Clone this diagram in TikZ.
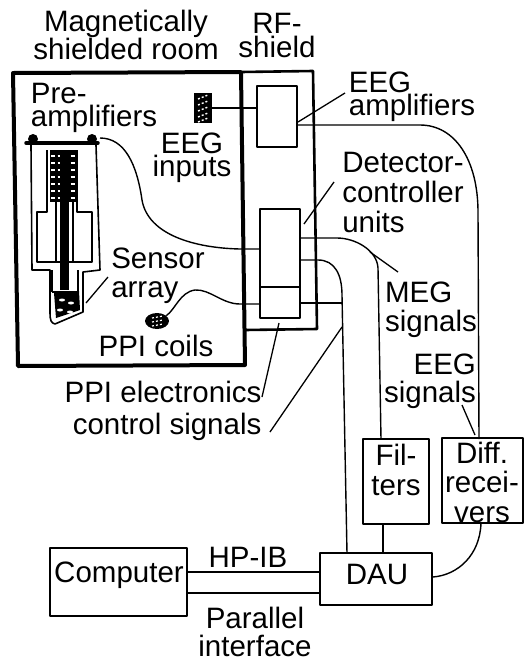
\documentclass[tikz,border=0pt]{standalone}
\usepackage{fontspec}
\setmainfont{Liberation Sans}
\usepackage{tikz}
\usetikzlibrary{shapes.geometric}

\begin{document}
\begin{tikzpicture}[x=1pt,y=-1pt,line join=round,
  lbl/.style={inner sep=0pt,align=center,font=\fontsize{29.5}{#1}\selectfont},
  unit/.style={draw,line width=1.6pt,inner sep=0pt,minimum width=#1},
  wire/.style={line width=1.4pt},
  bus/.style={line width=2.4pt},
  lead/.style={line width=1.3pt}]

\useasboundingbox (0,0) rectangle (525,662);

% rooms
\draw [line width=4pt] (13,73) -- (241,72) -- (245,365) -- (18,366) -- cycle;
\draw [line width=2.6pt] (241,72) -- (313,71) -- (317,329) -- (245,330);

% boxes
\node at (277,116.5) [unit=40pt,minimum height=61pt] (eegamp) {};
\node at (280,248) [unit=40pt,minimum height=78pt] (dcu) {};
\node at (280,302.5) [unit=40pt,minimum height=31pt] (ppi) {};
\node at (396,481.5) [unit=66pt,minimum height=85pt] (filters) {};
\node at (482.5,480.5) [unit=81pt,minimum height=85pt] (diff) {};
\node at (376,579) [unit=112pt,minimum height=52pt] (dau) {};
\node at (118.5,582) [unit=137pt,minimum height=68pt] (computer) {};
\node at (203,108) [fill=black,minimum width=18pt,minimum height=30pt,inner sep=0pt] (eeginp) {};
\node at (157,321) [ellipse,fill=black,minimum width=24pt,minimum height=16pt,inner sep=0pt] (coils) {};
\foreach \yy in {97,103,109,115,120} \draw [white,line width=1.4pt,dash pattern=on 2pt off 2pt] (198,\yy+2) -- (208,\yy-2);
\foreach \yy in {317,321,325} \draw [white,line width=1.2pt,dash pattern=on 2pt off 2pt] (152,\yy+1) -- (163,\yy-1);

% dewar
\draw [line width=1.6pt] (31,145) -- (32,270) -- (50,270) -- (50,313) .. controls (50,320) and (51,323) .. (55,324) -- (83,312) -- (83,272) -- (100,270) -- (96,145);
\draw [line width=1.6pt] (47,150) -- (47,212) -- (37,212) -- (37,262) -- (92,262) -- (92,212) -- (77,212) -- (77,150);
\draw [line width=1.6pt] (52,270) -- (52,292) (78,270) -- (78,292) (52,292) -- (78,292);
\draw [line width=1.2pt] (56,200) -- (56,262) (73,200) -- (73,262);
\draw [line width=3.5pt,line cap=round] (26,143) -- (98,143);
\fill (33,139) circle (5pt) (92,139) circle (5pt);
\fill (50,150) rectangle (77,202);
\foreach \yy in {156,163,170,177,184,191,198} \draw [white,line width=1.5pt,dash pattern=on 4pt off 2.5pt] (51,\yy) -- (76,\yy);
\fill (60,150) rectangle (69,290);
\fill (54,293) -- (79,291) -- (80,310) -- (56,318) -- cycle;
\foreach \xx/\yy in {62/300,71/303,60/310,70/312} \fill [white] (\xx,\yy) ellipse (3pt and 1.5pt);

% wires
\coordinate (eegout) at (297,125);
\coordinate (egcurve) at (420,125);
\coordinate (megout) at (337,238);
\coordinate (dauout) at (318,260);
\coordinate (ppiout) at (342,303);
\coordinate (preamp) at (100,138);
\coordinate (preend) at (240,249);
\coordinate (coilend) at (240,304);
\coordinate (hpib) at (187,572);
\coordinate (parallel) at (187,593);

\draw [wire] (eeginp.east) -- (eeginp.east -| eegamp.west);
\draw [wire] (eegout) -- (egcurve) .. controls (455,125) and (478,160) .. (478,212) -- (479,439);
\draw [wire] (dcu.east |- megout) -- (megout) .. controls (355,238) and (377,250) .. (378,268) -- (381,439);
\draw [wire] (dcu.east |- dauout) -- (dauout) .. controls (335,260) and (342,275) .. (342,295) -- (347,553);
\draw [wire] (ppi.east |- ppiout) -- (ppiout);
\draw [wire] (preamp) .. controls (125,138) and (137,165) .. (142,200) .. controls (148,235) and (195,248) .. (preend) -- (preend -| dcu.west);
\draw [wire] (coils.30) .. controls (175,310) and (180,292) .. (195,290) .. controls (210,289) and (222,304) .. (coilend) -- (coilend -| ppi.west);
\draw [wire] (383,524) -- (383,553);
\draw [wire] (481,523) .. controls (480,555) and (458,575) .. (433,577);
\draw [bus] (hpib) -- (hpib -| dau.west);
\draw [bus] (parallel) -- (parallel -| dau.west);

% leaders
\draw [lead] (345,93) -- (298,122);
\draw [lead] (334,182) -- (304,224);
\draw [lead] (398,272) -- (370,252);
\draw [lead] (108,277) -- (86,303);
\draw [lead] (279,323) -- (262,397);
\draw [lead] (342,327) -- (270,432);
\draw [lead] (462,405) -- (475,435);

% labels
\node at (126,35) [lbl=24] (roomlbl) {Magnetically\\shielded room};
\node at (277,35) [lbl=24] (shieldlbl) {RF-\\shield};
\node at (94,108) [lbl=23,align=left] (prelbl) {Pre-\\amplifiers};
\node at (192,158) [lbl=23] (inplbl) {EEG\\inputs};
\node at (158,276) [lbl=29,align=left] (senslbl) {Sensor\\array};
\node at (156,346) [lbl=24] (coillbl) {PPI coils};
\node at (412,97) [lbl=23,align=left] (amplbl) {EEG\\amplifiers};
\node at (403,192) [lbl=30,align=left] (deteclbl) {Detector-\\controller\\units};
\node at (431,310) [lbl=29,align=left] (meglbl) {MEG\\signals};
\node at (430,381) [lbl=28,align=right] (eeglbl) {EEG\\signals};
\node at (163,411) [lbl=32,align=right] (ppilbl) {PPI electronics\\control signals};
\node at (396,470) [lbl=30] (filtlbl) {Fil-\\ters};
\node at (482,482) [lbl=29.5] (difflbl) {Diff.\\recei-\\vers};
\node at (119,575) [lbl=30] (complbl) {Computer};
\node at (377,574) [lbl=30] (daulbl) {DAU};
\node at (248,557) [lbl=30] (hplbl) {HP-IB};
\node at (255,632) [lbl=28] (parlbl) {Parallel\\interface};
\end{tikzpicture}
\end{document}
